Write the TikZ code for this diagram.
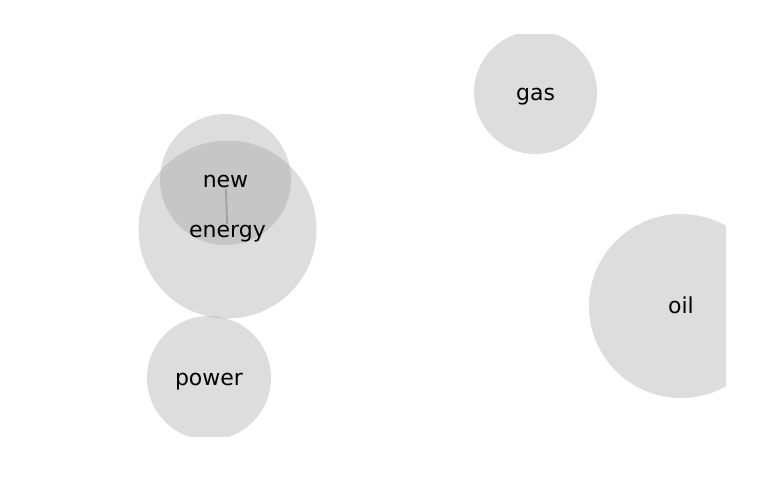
\documentclass[tikz,border=0pt]{standalone}
\usepackage{fontspec}
\setmainfont{DejaVu Sans}
\definecolor{bubblegray}{RGB}{149,149,149}
\definecolor{linkgray}{RGB}{160,160,160}

\begin{document}
\begin{tikzpicture}[x=1pt,y=-1pt]
\tikzset{bubble/.style={circle, fill=bubblegray, fill opacity=0.32, inner sep=0pt, minimum size=#1},
         word/.style={font=\fontsize{22}{26}\selectfont, inner sep=0.6pt, anchor=base}}
\useasboundingbox (0,0) rectangle (769,500);
\begin{scope}
\clip (0,35) rectangle (726,436);
\node[bubble=123pt] (gasc)    at (535.5,92.5) {};
\node[bubble=131pt] (newc)    at (225.5,179.5) {};
\node[bubble=178pt] (energyc) at (227.5,229.5) {};
\node[bubble=124pt] (powerc)  at (209,378) {};
\node[bubble=184pt] (oilc)    at (681,306) {};
\end{scope}
\node[word] (gas)    at (535.5,100.5) {gas};
\node[word] (new)    at (225.5,187.5) {new};
\node[word] (energy) at (227.5,237) {energy};
\node[word] (power)  at (209,385) {power};
\node[word] (oil)    at (681,313) {oil};
\draw[linkgray, line width=1.8pt] (new) -- (energy);
\end{tikzpicture}
\end{document}
